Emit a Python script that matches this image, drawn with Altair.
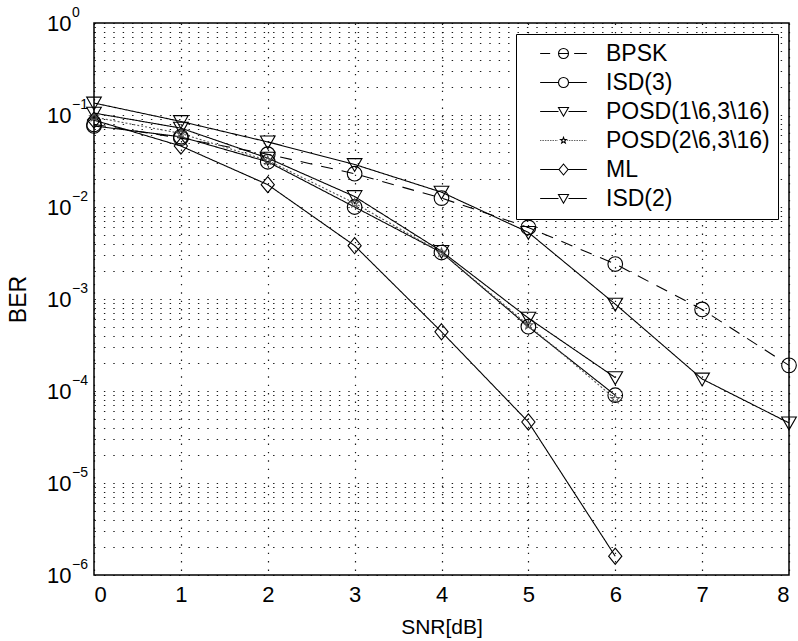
import math

import altair as alt
import pandas as pd

# ---- data -------------------------------------------------------------
snr = [0, 1, 2, 3, 4, 5, 6, 7, 8]
snr_short = [0, 1, 2, 3, 4, 5, 6]

ber_bpsk = [7.9e-2, 5.6e-2, 3.75e-2, 2.3e-2, 1.25e-2, 6.0e-3, 2.4e-3, 7.7e-4, 1.9e-4]
ber_isd3 = [7.6e-2, 5.8e-2, 3.1e-2, 1.0e-2, 3.2e-3, 5.0e-4, 9.0e-5]
ber_posd1 = [1.05e-1, 7.2e-2, 3.4e-2, 1.3e-2, 3.3e-3, 6.2e-4, 1.4e-4]
ber_posd2 = [9.5e-2, 6.3e-2, 3.2e-2, 1.1e-2, 3.2e-3, 5.2e-4, 8.2e-5]
ber_ml = [8.8e-2, 4.6e-2, 1.75e-2, 3.8e-3, 4.4e-4, 4.6e-5, 1.6e-6]
ber_isd2 = [1.35e-1, 8.5e-2, 5.1e-2, 2.9e-2, 1.45e-2, 5.3e-3, 8.8e-4, 1.35e-4, 4.5e-5]

series_names = ["BPSK", "ISD(3)", "POSD(1\\6,3\\16)", "POSD(2\\6,3\\16)", "ML", "ISD(2)"]
series_x = [snr, snr_short, snr_short, snr_short, snr_short, snr]
series_y = [ber_bpsk, ber_isd3, ber_posd1, ber_posd2, ber_ml, ber_isd2]

# decade exponents shown on the BER axis
decades = [0, -1, -2, -3, -4, -5, -6]

rows = []
for name, xs, ys in zip(series_names, series_x, series_y):
    for xv, yv in zip(xs, ys):
        rows.append({"series": name, "snr": xv, "ber": yv})
df = pd.DataFrame(rows)

exp_df = pd.DataFrame(
    {
        "snr": [snr[0]] * len(decades),
        "ber": [10.0 ** e for e in decades],
        "exp": [("−" + str(-e)) if e < 0 else str(e) for e in decades],
    }
)

# ---- marker shapes (unit-space SVG paths) --------------------------------
def circle(r=1.0):
    return f"M{-r},0A{r},{r} 0 1,1 {r},0A{r},{r} 0 1,1 {-r},0Z"


def star(r_out=0.62, r_in=0.26):
    pts = []
    for i in range(10):
        r = r_out if i % 2 == 0 else r_in
        a = math.pi / 2 + i * math.pi / 5
        pts.append((r * math.cos(a), -r * math.sin(a)))
    return "M" + "L".join(f"{px:.3f},{py:.3f}" for px, py in pts) + "Z"


TRI_DOWN = "M-1,-0.8L1,-0.8L0,0.95Z"
DIAMOND = "M0,-1.1L0.9,0L0,1.1L-0.9,0Z"

markers = [circle(), circle(), TRI_DOWN, star(), DIAMOND, TRI_DOWN]

# legend glyphs: line sample plus marker
ARM = 4.67
solid_arms = f"M{-ARM},0H-1M1,0H{ARM}"
dashed_arms = f"M{-ARM},0H-2.67M2.13,0H{ARM}"
dotted_arms = "".join(
    f"M{-ARM + i * 0.33:.2f},0H{-ARM + i * 0.33 + 0.12:.2f}" for i in range(11)
) + "".join(f"M{0.8 + i * 0.33:.2f},0H{0.92 + i * 0.33:.2f}" for i in range(12))

legend_glyphs = [
    dashed_arms + circle() + "M-1,0H1",
    solid_arms + circle(),
    solid_arms + TRI_DOWN,
    dotted_arms + star(),
    solid_arms + DIAMOND,
    solid_arms + TRI_DOWN,
]

dashes = [[12, 9], [1, 0], [1, 0], [2, 2], [1, 0], [1, 0]]
colors = ["#000000", "#000000", "#000000", "#555555", "#000000", "#000000"]
widths = [1.1, 1.1, 1.1, 0.8, 1.1, 1.1]

FONT = "Liberation Sans"

y_values = [k * 10.0 ** e for e in range(-6, 0) for k in range(1, 10)] + [1.0]
y_label = (
    "abs(log(datum.value)/LN10 - round(log(datum.value)/LN10)) < 0.001 ? '10' : ''"
)

x_enc = alt.X(
    "snr:Q",
    scale=alt.Scale(domain=[0, 8], nice=False, zero=False),
    axis=alt.Axis(
        values=snr,
        format="d",
        title="SNR[dB]",
        labelFontSize=22,
        titleFontSize=21,
        labelPadding=9,
        titlePadding=11,
        ticks=False,
        domain=False,
        grid=True,
        gridDash=[1.4, 7],
        gridColor="#000000",
        gridWidth=1.2,
        gridOpacity=0.9,
    ),
)
y_enc = alt.Y(
    "ber:Q",
    scale=alt.Scale(type="log", domain=[1e-6, 1], nice=False),
    axis=alt.Axis(
        values=y_values,
        labelExpr=y_label,
        labelOverlap=False,
        title="BER",
        labelFontSize=22,
        titleFontSize=23,
        labelPadding=23,
        titlePadding=16,
        ticks=False,
        domain=False,
        grid=True,
        gridDash=[1.4, 8],
        gridColor="#000000",
        gridWidth=1.2,
        gridOpacity=0.9,
    ),
)

base = alt.Chart(df).encode(x=x_enc, y=y_enc)

color_enc = alt.Color(
    "series:N", scale=alt.Scale(domain=series_names, range=colors), legend=None
)

lines = base.mark_line().encode(
    detail="series:N",
    color=color_enc,
    strokeDash=alt.StrokeDash(
        "series:N", scale=alt.Scale(domain=series_names, range=dashes), legend=None
    ),
    strokeWidth=alt.StrokeWidth(
        "series:N", scale=alt.Scale(domain=series_names, range=widths), legend=None
    ),
)

points = base.mark_point(filled=False, size=215, strokeWidth=1.1, opacity=1).encode(
    color=color_enc,
    shape=alt.Shape(
        "series:N", scale=alt.Scale(domain=series_names, range=markers), legend=None
    ),
)

# superscript exponents beside the "10" tick labels
exponents = (
    alt.Chart(exp_df)
    .mark_text(
        align="left",
        baseline="middle",
        dx=-22,
        dy=-10,
        fontSize=14,
        font=FONT,
        color="#000000",
    )
    .encode(x=x_enc, y=y_enc, text="exp:N")
)

legend_layer = (
    base.transform_filter("false")
    .mark_point(filled=False, size=225, strokeWidth=1.1, color="#000000", opacity=1)
    .encode(
        shape=alt.Shape(
            "series:N",
            scale=alt.Scale(domain=series_names, range=legend_glyphs),
            legend=alt.Legend(
                title=None,
                orient="none",
                legendX=422,
                legendY=11,
                direction="vertical",
                labelFontSize=23,
                labelFont=FONT,
                labelColor="#000000",
                labelLimit=400,
                symbolOffset=28,
                labelOffset=31,
                rowPadding=5,
                padding=8,
                strokeColor="#000000",
                fillColor="#ffffff",
                symbolStrokeWidth=1.1,
                symbolStrokeColor="#000000",
                symbolOpacity=1,
                cornerRadius=0,
            ),
        )
    )
)

chart = (
    alt.layer(lines, points, exponents, legend_layer)
    .resolve_scale(shape="independent")
    .properties(
        width=695,
        height=552,
        autosize=alt.AutoSizeParams(type="none"),
        padding={"left": 94, "top": 23, "right": 9, "bottom": 66},
        background="#ffffff",
    )
    .configure_view(stroke="#000000", strokeWidth=1.5)
    .configure_axis(
        labelFont=FONT,
        titleFont=FONT,
        labelColor="#000000",
        titleColor="#000000",
        titleFontWeight="normal",
    )
)

chart.save("out.html", embed_options={"renderer": "svg", "actions": False})
